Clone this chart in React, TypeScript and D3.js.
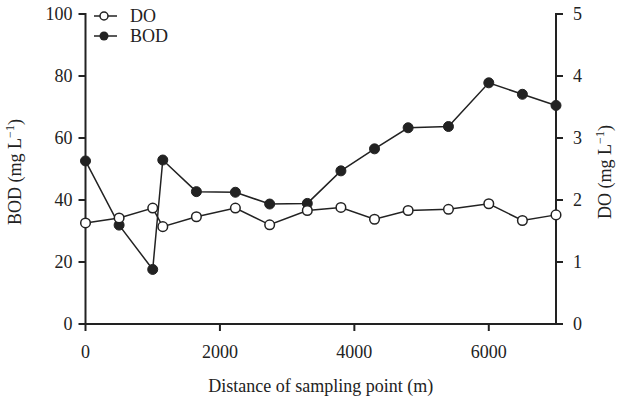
import React from "react";
import * as d3 from "d3";

const distance = [0, 500, 1000, 1150, 1650, 2230, 2740, 3300, 3800, 4300, 4800, 5400, 6000, 6500, 7000];
const bodValues = [52.6, 31.9, 17.6, 52.9, 42.7, 42.5, 38.7, 38.9, 49.4, 56.5, 63.3, 63.7, 77.8, 74.1, 70.5];
const doValues = [1.63, 1.71, 1.87, 1.57, 1.73, 1.87, 1.6, 1.83, 1.88, 1.69, 1.83, 1.85, 1.94, 1.67, 1.76];
const xTicks = [0, 2000, 4000, 6000];
const bodTicks = [0, 20, 40, 60, 80, 100];
const doTicks = [0, 1, 2, 3, 4, 5];

const W = 617;
const H = 400;
const left = 85.5;
const right = 556;
const top = 14;
const bottom = 324;
const FONT = "'Liberation Serif', 'Times New Roman', serif";
const INK = "#222";
const FS = 18;

export default function App() {
  const x = d3.scaleLinear().domain([0, 7000]).range([left, right]);
  const yL = d3.scaleLinear().domain([0, 100]).range([bottom, top]);
  const yR = d3.scaleLinear().domain([0, 5]).range([bottom, top]);

  const bodPts = distance.map((d, i) => [x(d), yL(bodValues[i])] as [number, number]);
  const doPts = distance.map((d, i) => [x(d), yR(doValues[i])] as [number, number]);
  const line = d3.line();

  return (
    <svg width={W} height={H} style={{ position: "absolute", left: 0, top: 0 }} fontFamily={FONT}>
      <rect width={W} height={H} fill="#fff" />
      {/* axes */}
      <g stroke={INK} strokeWidth={2} fill="none">
        <line x1={left} x2={left} y1={top - 1} y2={bottom + 1} />
        <line x1={right} x2={right} y1={top - 1} y2={bottom + 1} />
        <line x1={left - 1} x2={right + 1} y1={bottom} y2={bottom} />
        {bodTicks.map((t) => (
          <line key={"lt" + t} x1={left - 7} x2={left} y1={yL(t)} y2={yL(t)} />
        ))}
        {doTicks.map((t) => (
          <line key={"rt" + t} x1={right} x2={right + 7} y1={yR(t)} y2={yR(t)} />
        ))}
        {xTicks.map((t) => (
          <line key={"xt" + t} x1={x(t)} x2={x(t)} y1={bottom} y2={bottom + 7} />
        ))}
      </g>
      <g fill={INK} fontSize={FS}>
        {bodTicks.map((t) => (
          <text key={"ll" + t} x={left - 13} y={yL(t)} dy="0.35em" textAnchor="end">{t}</text>
        ))}
        {doTicks.map((t) => (
          <text key={"rl" + t} x={right + 17} y={yR(t)} dy="0.35em" textAnchor="start">{t}</text>
        ))}
        {xTicks.map((t) => (
          <text key={"xl" + t} x={x(t)} y={bottom + 34} textAnchor="middle">{t}</text>
        ))}
        <text x={(left + right) / 2 + 0} y={392} textAnchor="middle">Distance of sampling point (m)</text>
        <text transform={`translate(21,${(top + bottom) / 2 + 3}) rotate(-90)`} textAnchor="middle">
          BOD (mg L<tspan dy="-7" fontSize={12}>−1</tspan><tspan dy="7">)</tspan>
        </text>
        <text transform={`translate(611,${(top + bottom) / 2 + 3}) rotate(-90)`} textAnchor="middle">
          DO (mg L<tspan dy="-7" fontSize={12}>−1</tspan><tspan dy="7">)</tspan>
        </text>
      </g>
      {/* lines */}
      <path d={line(bodPts) || ""} fill="none" stroke={INK} strokeWidth={1.5} />
      <path d={line(doPts) || ""} fill="none" stroke={INK} strokeWidth={1.5} />
      {bodPts.map((p, i) => (
        <circle key={"b" + i} cx={p[0]} cy={p[1]} r={5} fill={INK} stroke={INK} strokeWidth={1} />
      ))}
      {doPts.map((p, i) => (
        <circle key={"d" + i} cx={p[0]} cy={p[1]} r={4.8} fill="#fff" stroke={INK} strokeWidth={1.5} />
      ))}
      {/* legend */}
      <g>
        <line x1={94} x2={117} y1={16} y2={16} stroke={INK} strokeWidth={1.5} />
        <circle cx={104} cy={16} r={4} fill="#fff" stroke={INK} strokeWidth={1.5} />
        <text x={130} y={16} dy="0.35em" fontSize={FS} fill={INK}>DO</text>
        <line x1={94} x2={117} y1={36} y2={36} stroke={INK} strokeWidth={1.5} />
        <circle cx={104} cy={36} r={4.5} fill={INK} />
        <text x={130} y={36} dy="0.35em" fontSize={FS} fill={INK}>BOD</text>
      </g>
    </svg>
  );
}
